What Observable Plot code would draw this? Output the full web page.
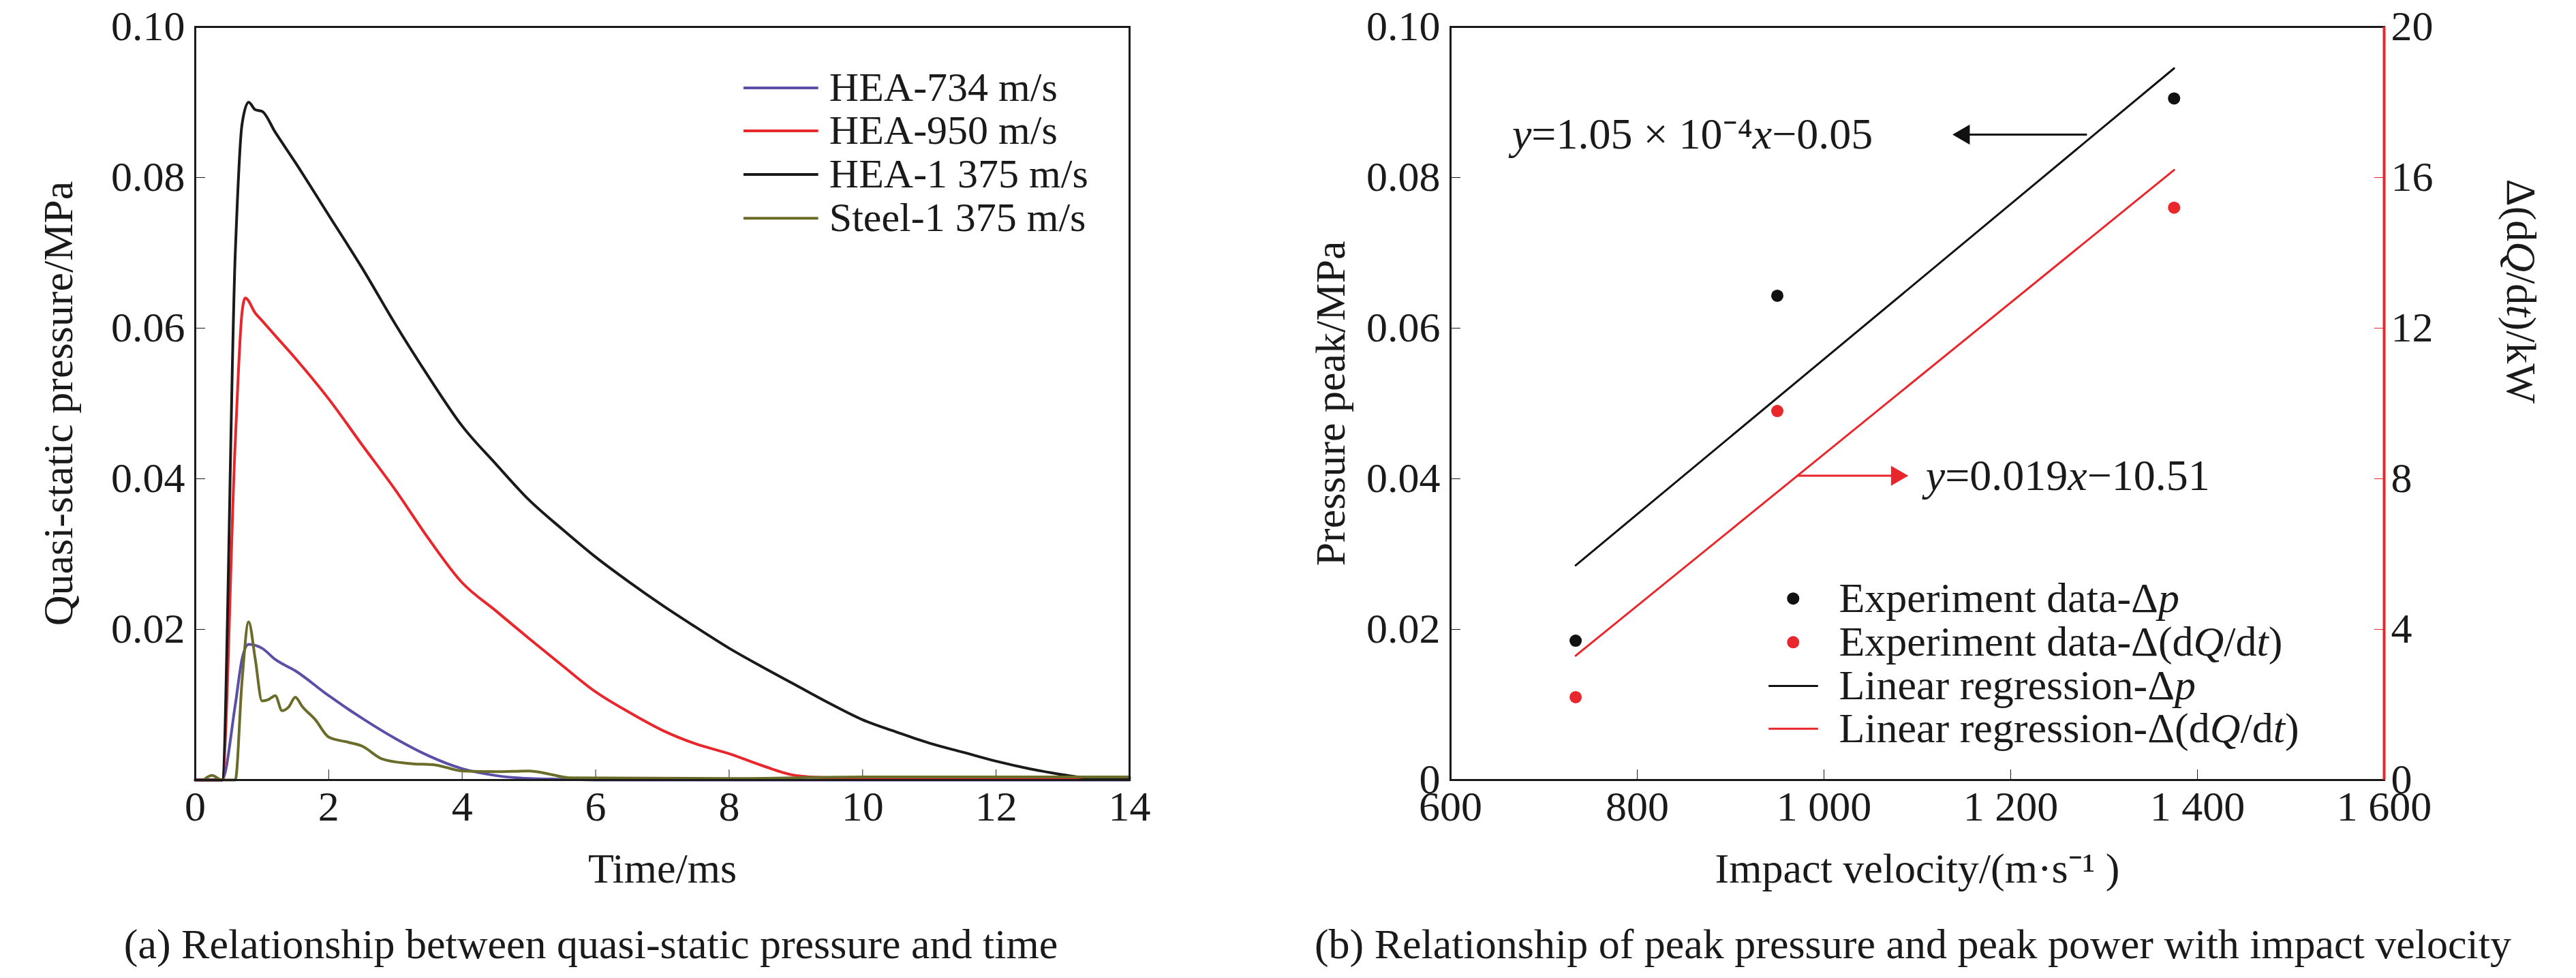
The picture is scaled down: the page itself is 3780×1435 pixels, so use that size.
<!DOCTYPE html>
<html><head><meta charset="utf-8">
<script src="https://cdn.jsdelivr.net/npm/d3@7"></script>
<script src="https://cdn.jsdelivr.net/npm/@observablehq/plot@0.6"></script>
<style>
body{margin:0;background:#fff;font-family:'Liberation Serif',serif;}
#wrap{position:relative;width:3780px;height:1435px;}
.p{position:absolute;top:0;}
.p svg, .p svg text{font-family:'Liberation Serif',serif !important;}
.cap{position:absolute;top:1350px;font-size:62px;white-space:nowrap;transform:translateX(-50%);color:#1a1a1a;}
</style></head><body>
<div id="wrap">
<div class="p" id="a" style="left:0"></div>
<div class="p" id="b" style="left:1880px"></div>
<div class="cap" style="left:867px">(a) Relationship between quasi-static pressure and time</div>
<div class="cap" style="left:2807px">(b) Relationship of peak pressure and peak power with impact velocity</div>
</div>
<script>
// Panel (a) series: time (ms), pressure (MPa)
const t1375 = [0,0.4,0.6,0.7,0.8,0.9,1.0,1.2,1.5,2,2.5,3,3.5,4,4.5,5,5.5,6,6.5,7,7.5,8,8.5,9,9.5,10,10.5,11,11.5,12,12.5,13,13.5,14];
const p1375 = [0,0,0.07,0.087,0.09,0.089,0.0888,0.086,0.082,0.075,0.068,0.0605,0.0535,0.047,0.042,0.0372,0.0333,0.0296,0.0263,0.0232,0.0203,0.0175,0.015,0.0126,0.0102,0.008,0.0064,0.0049,0.0037,0.0025,0.0015,0.0007,0.0002,0.0002];
const t950 = [0,0.4,0.6,0.7,0.75,0.9,1.0,1.2,1.5,2,2.5,3,3.5,4,4.5,5,5.5,6,6.5,7,7.5,8,8.5,9,9.5,14];
const p950 = [0,0,0.045,0.062,0.064,0.062,0.061,0.059,0.056,0.0506,0.0445,0.0385,0.032,0.0262,0.0225,0.0188,0.0152,0.0117,0.009,0.0066,0.0048,0.0035,0.0019,0.0006,0.0003,0.0003];
const t734 = [0,0.4,0.6,0.7,0.8,1.0,1.2,1.5,2,2.5,3,3.5,4,4.5,5,5.5,6,14];
const p734 = [0,0,0.01,0.016,0.018,0.0175,0.016,0.0145,0.0112,0.0082,0.0055,0.0032,0.0015,0.0006,0.0002,0.0001,0,0];
const tSteel = [0.15,0.25,0.4,0.6,0.7,0.8,0.9,1.0,1.1,1.2,1.3,1.4,1.5,1.6,1.8,2.0,2.3,2.5,2.8,3.2,3.6,4.0,4.5,5.0,5.3,5.6,8,10,11,14];
const pSteel = [0.0002,0.0006,0,0,0.013,0.021,0.016,0.0105,0.0107,0.0112,0.0092,0.0097,0.011,0.0098,0.008,0.0057,0.005,0.0045,0.0028,0.0022,0.002,0.0012,0.0011,0.0012,0.0008,0.0003,0.0002,0.0004,0.0004,0.0004];
const seriesNames = ["HEA-734 m/s","HEA-950 m/s","HEA-1 375 m/s","Steel-1 375 m/s"];
const seriesColors = ["#5a4fa8","#e8262b","#1a1a1a","#6b6b2a"];

// Panel (b)
const velocity = [734, 950, 1375];
const peakPressure = [0.0185, 0.0643, 0.0905];
const peakPower = [2.2, 9.8, 15.2]; // kW
const fitPressure = [0.0285, 0.0945]; // at 734, 1375
const fitPower = [3.3, 16.2]; // kW at 734, 1375
const fitX = [734, 1375];
const bXTicks = [600,800,1000,1200,1400,1600];
const bXLabels = ["600","800","1 000","1 200","1 400","1 600"];
const powerScale = 200; // 0.10 MPa ↔ 20 kW

const font = "'Liberation Serif', serif";
const zip = (xs, ys) => xs.map((x,i)=>({x, y: ys[i]}));
const seriesA = [zip(t734,p734), zip(t950,p950), zip(t1375,p1375), zip(tSteel,pSteel)];

const legY = [0.0919,0.0862,0.0804,0.0746];
const legA = seriesNames.map((n,i)=>({n, c: seriesColors[i], y: legY[i]}));

const A = Plot.plot({
  width: 1880, height: 1340, marginLeft: 286, marginRight: 223, marginTop: 39, marginBottom: 196,
  style: {fontFamily: font, fontSize: "62px", color: "#1a1a1a", background: "transparent"},
  x: {domain: [0,14]},
  y: {domain: [0,0.1]},
  marks: [
    Plot.axisX({ticks: d3.range(0,15,2), tickSize: -15, tickPadding: 30, label: "Time/ms", labelAnchor: "center", labelOffset: 150, labelArrow: "none"}),
    Plot.axisY({ticks: [0.02,0.04,0.06,0.08,0.10], tickSize: -15, tickPadding: 30, tickFormat: d=>d.toFixed(2), label: "Quasi-static pressure/MPa", labelAnchor: "center", labelOffset: 225, labelArrow: "none"}),
    ...seriesA.map((s,i)=>Plot.line(s, {x:"x", y:"y", stroke: seriesColors[i], strokeWidth: 4, curve: "monotone-x"})),
    Plot.ruleY(legA, {x1: 8.22, x2: 9.34, y: "y", stroke: "c", strokeWidth: 4}),
    Plot.text(legA, {x: 9.5, y: "y", text: "n", textAnchor: "start", fontSize: 60, fontFamily: font}),
    Plot.frame({stroke: "#1a1a1a", strokeWidth: 3})
  ]
});
document.getElementById("a").append(A);

const pts = [
  ...velocity.map((v,i)=>({x:v, y:peakPressure[i], c:"#111"})),
  ...velocity.map((v,i)=>({x:v, y:peakPower[i]/powerScale, c:"#e8262b"}))
];
const legB = [
  {t:"Experiment data-Δ*p*", y:0.0241, k:"dot", c:"#111"},
  {t:"Experiment data-Δ(d*Q*/d*t*)", y:0.0183, k:"dot", c:"#e8262b"},
  {t:"Linear regression-Δ*p*", y:0.0125, k:"line", c:"#111"},
  {t:"Linear regression-Δ(d*Q*/d*t*)", y:0.0068, k:"line", c:"#e8262b"}
];
const arrows = [
  {x1:1282, x2:1150, y:0.0857, c:"#111", r:-90},
  {x1:972, x2:1078, y:0.0404, c:"#e8262b", r:90}
];

const B = Plot.plot({
  width: 1900, height: 1340, marginLeft: 248, marginRight: 282, marginTop: 39, marginBottom: 196,
  style: {fontFamily: font, fontSize: "62px", color: "#1a1a1a", background: "transparent"},
  x: {domain: [600,1600]},
  y: {domain: [0,0.1]},
  marks: [
    Plot.axisX({ticks: bXTicks, tickFormat: d=>bXLabels[bXTicks.indexOf(d)], tickSize: -15, tickPadding: 30, label: "Impact velocity/(m·s⁻¹ )", labelAnchor: "center", labelOffset: 150, labelArrow: "none"}),
    Plot.axisY({ticks: [0,0.02,0.04,0.06,0.08,0.10], tickSize: -15, tickPadding: 30, tickFormat: d=>d===0?"0":d.toFixed(2), label: "Pressure peak/MPa", labelAnchor: "center", labelOffset: 200, labelArrow: "none"}),
    Plot.axisY({anchor: "right", ticks: [0,0.02,0.04,0.06,0.08,0.10], tickSize: -15, tickPadding: 25, stroke: "#e8262b", tickFormat: d=>String(Math.round(d*powerScale)), label: null}),
    Plot.text(["Δ(d*Q*/d*t*)/kW"], {frameAnchor: "right", dx: 200, rotate: 90, text: d=>d, fontSize: 62, fontFamily: font, fill: "#1a1a1a"}),
    Plot.frame({stroke: "#1a1a1a", strokeWidth: 3}),
    Plot.ruleX([1600], {stroke: "#e8262b", strokeWidth: 4}),
    Plot.line(zip(fitX, fitPressure), {x:"x", y:"y", stroke:"#111", strokeWidth: 3}),
    Plot.line(zip(fitX, fitPower.map(v=>v/powerScale)), {x:"x", y:"y", stroke:"#e8262b", strokeWidth: 3}),
    Plot.dot(pts, {x:"x", y:"y", fill:"c", r: 9}),
    Plot.ruleY(arrows, {x1:"x1", x2:"x2", y:"y", stroke:"c", strokeWidth: 3}),
    Plot.dot(arrows, {x:"x2", y:"y", fill:"c", symbol:"triangle2", r: 14, rotate:"r"}),
    Plot.text([{x:666, y:0.0857, t:"*y*=1.05 × 10⁻⁴*x*−0.05"}], {x:"x", y:"y", text:"t", textAnchor:"start", fontSize: 64, fontFamily: font}),
    Plot.text([{x:1109, y:0.0404, t:"*y*=0.019*x*−10.51"}], {x:"x", y:"y", text:"t", textAnchor:"start", fontSize: 64, fontFamily: font}),
    Plot.dot(legB.filter(d=>d.k==="dot"), {x: 967, y:"y", fill:"c", r: 9}),
    Plot.ruleY(legB.filter(d=>d.k==="line"), {x1: 941, x2: 994, y:"y", stroke:"c", strokeWidth: 3}),
    Plot.text(legB, {x: 1016, y:"y", text:"t", textAnchor:"start", fontSize: 62, fontFamily: font})
  ]
});
document.getElementById("b").append(B);

// render *...* segments in italic
d3.selectAll("svg text").each(function(){
  const el = d3.select(this);
  if (el.selectAll("tspan").size() > 0) {
    el.selectAll("tspan").each(function(){ italicize(d3.select(this)); });
  } else italicize(el);
});
function italicize(el){
  const s = el.text();
  if (!s.includes("*")) return;
  el.text(null);
  s.split("*").forEach((part,i)=>{ if(part) el.append("tspan").attr("font-style", i%2 ? "italic" : null).text(part); });
}
</script>
</body></html>
